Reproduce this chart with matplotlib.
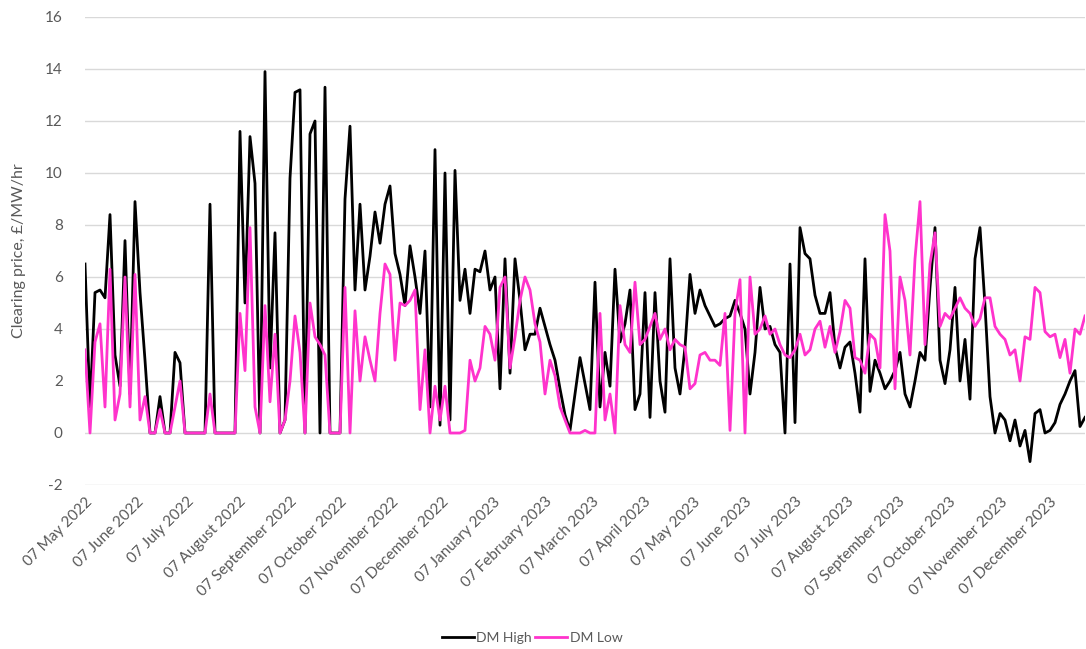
import matplotlib
matplotlib.use("Agg")
import matplotlib.pyplot as plt
import pandas as pd

# x categories: 3-day steps from 07 May 2022
dates = pd.date_range(start="2022-05-07", periods=201, freq="3D")

dm_high = [
    6.5, 1.0, 5.4, 5.5, 5.2, 8.4, 3.0, 1.8, 7.4, 1.5,
    8.9, 5.4, 2.8, 0, 0, 1.4, 0, 0, 3.1, 2.7,
    0, 0, 0, 0, 0, 8.8, 0, 0, 0, 0,
    0, 11.6, 5.0, 11.4, 9.6, 0, 13.9, 2.5, 7.7, 0,
    0.5, 9.8, 13.1, 13.2, 0, 11.5, 12.0, 0, 13.3, 0,
    0, 0, 9.0, 11.8, 5.5, 8.8, 5.5, 6.8, 8.5, 7.3,
    8.8, 9.5, 6.9, 6.1, 4.9, 7.2, 6.0, 4.6, 7.0, 1.0,
    10.9, 0.3, 10.0, 0.5, 10.1, 5.1, 6.3, 4.6, 6.3, 6.2,
    7.0, 5.5, 6.0, 1.7, 6.7, 2.3, 6.7, 5.1, 3.2, 3.8,
    3.8, 4.8, 4.1, 3.4, 2.8, 1.7, 0.7, 0.1, 1.5, 2.9,
    1.9, 0.9, 5.8, 1.0, 3.1, 1.8, 6.3, 3.5, 4.2, 5.5,
    0.9, 1.5, 5.4, 0.6, 5.4, 2.0, 0.8, 6.7, 2.5, 1.5,
    3.3, 6.1, 4.6, 5.5, 4.9, 4.5, 4.1, 4.2, 4.4, 4.5,
    5.1, 4.6, 4.0, 1.5, 3.1, 5.6, 4.0, 4.1, 3.4, 3.1,
    0.0, 6.5, 0.4, 7.9, 6.9, 6.7, 5.3, 4.6, 4.6, 5.4,
    3.3, 2.5, 3.3, 3.5, 2.3, 0.8, 6.7, 1.6, 2.8, 2.3,
    1.7, 2.0, 2.4, 3.1, 1.5, 1.0, 2.0, 3.1, 2.8, 5.6,
    7.9, 2.8, 1.9, 3.2, 5.6, 2.0, 3.6, 1.3, 6.7, 7.9,
    4.9, 1.4, 0.0, 0.75, 0.5, -0.3, 0.5, -0.5, 0.1, -1.1,
    0.75, 0.9, 0.0, 0.1, 0.4, 1.1, 1.5, 2.0, 2.4, 0.25,
    0.6,
]

dm_low = [
    3.2, 0, 3.5, 4.2, 1.0, 6.3, 0.5, 1.5, 6.0, 1.0,
    6.1, 0.5, 1.4, 0, 0, 0.9, 0, 0, 1.0, 2.0,
    0, 0, 0, 0, 0, 1.5, 0, 0, 0, 0,
    0, 4.6, 2.4, 7.9, 1.0, 0, 4.9, 1.2, 3.8, 0,
    0.5, 2.0, 4.5, 3.1, 0, 5.0, 3.7, 3.4, 3.0, 0,
    0, 0, 5.6, 0, 4.7, 2.0, 3.7, 2.8, 2.0, 4.6,
    6.5, 6.1, 2.8, 5.0, 4.9, 5.1, 5.5, 0.9, 3.2, 0,
    1.8, 0.5, 1.8, 0, 0, 0, 0.1, 2.8, 2.0, 2.5,
    4.1, 3.8, 2.8, 5.6, 6.0, 2.5, 3.7, 5.1, 6.0, 5.5,
    4.2, 3.5, 1.5, 2.8, 2.2, 1.0, 0.5, 0, 0, 0,
    0.1, 0, 0, 4.6, 0.5, 1.5, 0, 4.9, 3.4, 3.1,
    5.8, 3.4, 3.6, 4.1, 4.6, 3.6, 4.0, 3.2, 3.6, 3.4,
    3.3, 1.7, 1.9, 3.0, 3.1, 2.8, 2.8, 2.6, 4.6, 0.1,
    4.6, 5.9, 0, 6.0, 3.8, 4.0, 4.5, 3.8, 4.0, 3.4,
    3.0, 2.9, 3.2, 3.8, 3.0, 3.2, 4.0, 4.3, 3.3, 4.1,
    3.1, 3.9, 5.1, 4.8, 2.9, 2.8, 2.3, 3.8, 3.6, 2.5,
    8.4, 7.0, 1.7, 6.0, 5.1, 3.0, 6.7, 8.9, 3.4, 6.5,
    7.7, 4.1, 4.6, 4.4, 4.8, 5.2, 4.8, 4.6, 4.1, 4.4,
    5.2, 5.2, 4.1, 3.8, 3.6, 3.0, 3.2, 2.0, 3.7, 3.6,
    5.6, 5.4, 3.9, 3.7, 3.8, 2.9, 3.6, 2.3, 4.0, 3.8,
    4.5,
]

tick_dates = pd.date_range(start="2022-05-01", end="2023-12-01", freq="MS") + pd.Timedelta(days=6)
tick_labels = [d.strftime("%d %B %Y") for d in tick_dates]
y_ticks = [-2, 0, 2, 4, 6, 8, 10, 12, 14, 16]

plt.rcParams["font.family"] = ["Lato", "DejaVu Sans"]
gray = "#595959"

fig = plt.figure(figsize=(10.86, 6.49), dpi=100)
ax = fig.add_axes([85 / 1086, 1 - 485 / 649, 1000 / 1086, (485 - 17) / 649])

ax.plot(dates, dm_high, color="#000000", lw=2.0, label="DM High", zorder=3)
ax.plot(dates, dm_low, color="#FF33CC", lw=2.0, label="DM Low", zorder=4)

start = pd.Timestamp("2022-05-07")
ax.set_xlim(start, start + pd.Timedelta(days=600))
ax.set_ylim(-2, 16)
ax.set_yticks(y_ticks)
ax.set_yticklabels([str(v) for v in y_ticks], fontsize=11, color=gray)
ax.set_xticks(tick_dates)
ax.set_xticklabels(tick_labels, rotation=45, ha="right", va="top",
                   rotation_mode="anchor", fontsize=11, color=gray)
ax.tick_params(axis="both", length=0)
ax.tick_params(axis="y", pad=16)
ax.tick_params(axis="x", pad=7)
ax.grid(axis="y", color="#D9D9D9", lw=1.0)
ax.set_axisbelow(True)
for s in ax.spines.values():
    s.set_visible(False)

ax.set_ylabel("Clearing price, £/MW/hr", fontsize=11.5, color=gray, labelpad=14)

fig.legend(loc="lower center", bbox_to_anchor=(532 / 1086, -0.012), ncol=2,
           frameon=False, fontsize=10, handlelength=2.3, columnspacing=0.2,
           handletextpad=0.2, labelcolor=gray)

fig.savefig("out.png", dpi=100)
